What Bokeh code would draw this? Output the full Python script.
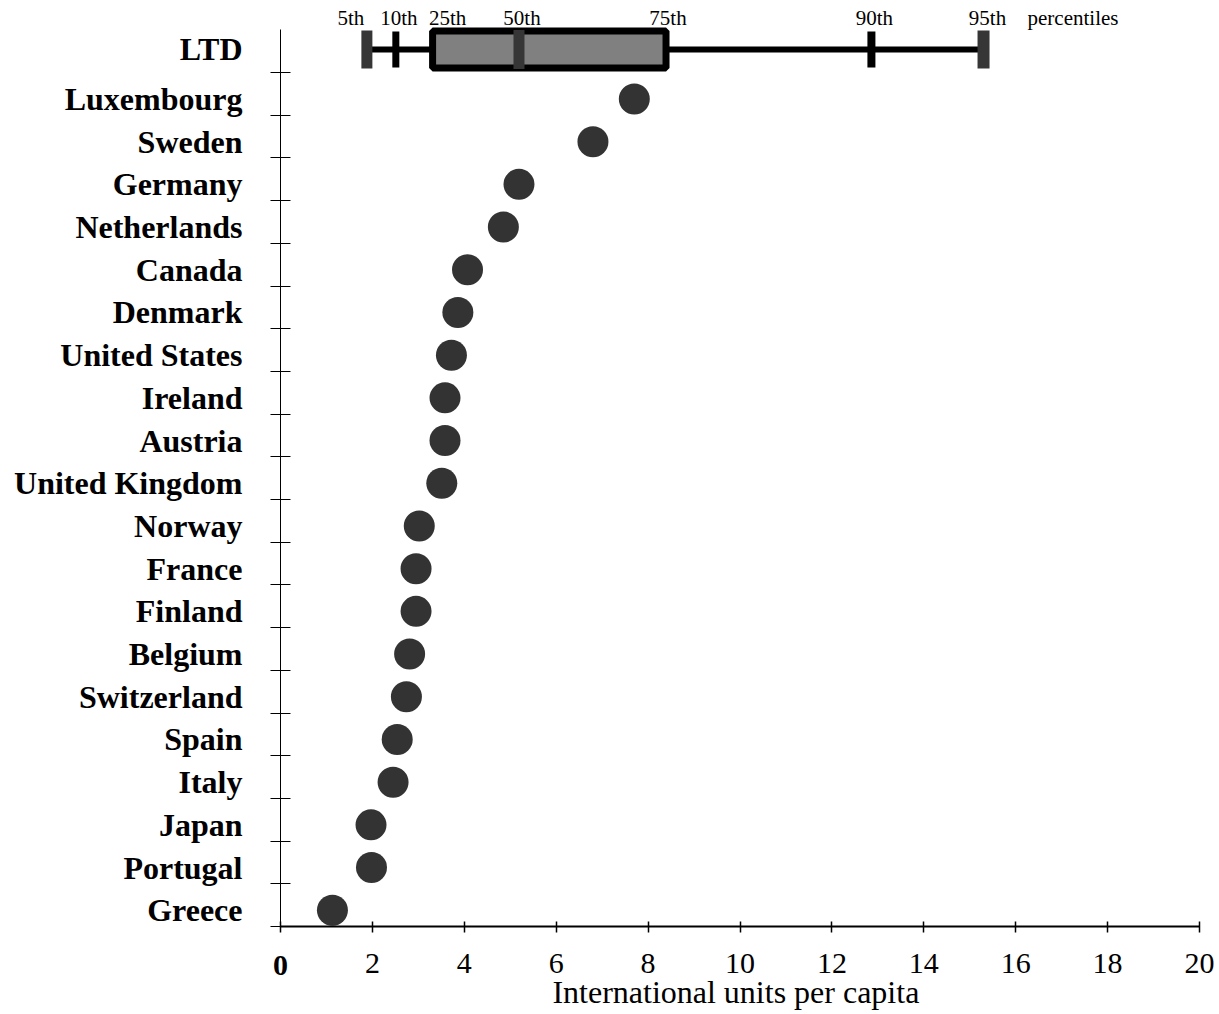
from bokeh.plotting import figure
from bokeh.models import Range1d, FixedTicker, ColumnDataSource, LabelSet, Label
from bokeh.embed import file_html
from bokeh.resources import INLINE

# ---------------- data ----------------
countries = ["Luxembourg", "Sweden", "Germany", "Netherlands", "Canada", "Denmark",
             "United States", "Ireland", "Austria", "United Kingdom", "Norway", "France",
             "Finland", "Belgium", "Switzerland", "Spain", "Italy", "Japan", "Portugal", "Greece"]
values = [7.70, 6.80, 5.19, 4.85, 4.07, 3.86, 3.72, 3.58, 3.58, 3.51, 3.02, 2.95,
          2.95, 2.81, 2.74, 2.54, 2.45, 1.97, 1.98, 1.13]
box_label = "LTD"
pct_labels = ["5th", "10th", "25th", "50th", "75th", "90th", "95th"]
pct_values = [1.88, 2.51, 3.31, 5.19, 8.39, 12.86, 15.30]
pct_word = "percentiles"
x_ticks = [0, 2, 4, 6, 8, 10, 12, 14, 16, 18, 20]
x_title = "International units per capita"

# ---------------- layout ----------------
W, H = 1219, 1014
n = len(countries)
X_MIN, X_MAX = x_ticks[0], x_ticks[-1]
Y_MIN, Y_MAX = 0, n + 1
# pixel placement of the axes' corners
px_x0, px_x1 = 280, 1199
px_y0, px_y1 = 926, 29.3
sx = (px_x1 - px_x0) / (X_MAX - X_MIN)
sy = (px_y0 - px_y1) / (Y_MAX - Y_MIN)
x_range = Range1d(X_MIN - px_x0 / sx, X_MAX + (W - px_x1) / sx)
y_range = Range1d(Y_MIN - (H - px_y0) / sy, Y_MAX + px_y1 / sy)

row_offset = 0.38          # dot/label position inside each row band
ltd_row = n + 0.54         # LTD row (top band)
country_y = [(n - 1 - j) + row_offset for j in range(n)]
boundaries = list(range(Y_MIN, Y_MAX))

SERIF = "Liberation Serif"
DOT = "#333333"

p = figure(width=W, height=H, x_range=x_range, y_range=y_range,
           output_backend="svg", toolbar_location=None,
           min_border_left=0, min_border_right=0, min_border_top=0, min_border_bottom=0)
p.grid.visible = False
p.outline_line_color = None
p.background_fill_color = "white"
p.border_fill_color = "white"

# ---------------- x axis ----------------
xa = p.xaxis[0]
xa.fixed_location = Y_MIN
xa.bounds = (X_MIN, X_MAX)
xa.ticker = FixedTicker(ticks=x_ticks)
xa.major_tick_in = 5
xa.major_tick_out = 6
xa.major_tick_line_width = 1.5
xa.major_tick_line_color = "black"
xa.axis_line_width = 2
xa.axis_line_color = "black"
xa.minor_tick_line_color = None
xa.major_label_text_font = SERIF
xa.major_label_text_font_size = "30px"
xa.major_label_text_color = "black"
xa.major_label_standoff = 21
xa.major_label_overrides = {x_ticks[0]: ""}

# ---------------- y axis ----------------
ya = p.yaxis[0]
ya.fixed_location = X_MIN
ya.bounds = (Y_MIN, Y_MAX)
tick_pos = country_y + [ltd_row]
tick_txt = countries + [box_label]
ya.ticker = FixedTicker(ticks=tick_pos, minor_ticks=boundaries)
ya.major_label_overrides = {t: s for t, s in zip(tick_pos, tick_txt)}
ya.major_tick_line_color = None
ya.major_tick_in = 0
ya.major_tick_out = 0
ya.minor_tick_in = 10
ya.minor_tick_out = 10
ya.minor_tick_line_color = "black"
ya.minor_tick_line_width = 1
ya.axis_line_color = "black"
ya.axis_line_width = 1
ya.major_label_text_font = SERIF
ya.major_label_text_font_style = "bold"
ya.major_label_text_font_size = "32px"
ya.major_label_text_color = "black"
ya.major_label_standoff = 28

# ---------------- LTD box plot ----------------
p5, p10, p25, p50, p75, p90, p95 = pct_values
p.segment(x0=[p5], y0=[ltd_row], x1=[p95], y1=[ltd_row], line_width=6, line_color="black")
p.rect(x=[(p25 + p75) / 2], y=[ltd_row], width=[p75 - p25], height=37, height_units="screen",
       fill_color="#808080", line_color="black", line_width=7)
bar_src = ColumnDataSource(dict(
    x=[p5, p10, p50, p90, p95],
    y=[ltd_row] * 5,
    w=[11, 7, 11, 8, 12],
    h=[38, 36, 39, 36, 38],
    c=["#363636", "#000000", "#363636", "#000000", "#363636"],
))
p.rect(x="x", y="y", width="w", height="h", width_units="screen", height_units="screen",
       fill_color="c", line_color=None, source=bar_src)

# percentile labels
lab_src = ColumnDataSource(dict(
    x=pct_values,
    y=[Y_MAX + 0.28] * len(pct_values),
    t=pct_labels,
    dx=[-16, 3, 15, 3, 2, 3, 4],
))
p.add_layout(LabelSet(x="x", y="y", text="t", x_offset="dx", source=lab_src,
                      text_font=SERIF, text_font_size="21px", text_color="black",
                      text_align="center", text_baseline="middle"))
p.add_layout(Label(x=p95, y=Y_MAX + 0.28, text=pct_word, x_offset=44,
                   text_font=SERIF, text_font_size="21px", text_color="black",
                   text_align="left", text_baseline="middle"))

# ---------------- country dots ----------------
p.scatter(x=values, y=country_y, size=31, fill_color=DOT, line_color=None)

# bold zero tick label and axis title
p.add_layout(Label(x=X_MIN, y=Y_MIN - 0.913, text=str(x_ticks[0]),
                   text_font=SERIF, text_font_style="bold", text_font_size="30px",
                   text_color="black", text_align="center", text_baseline="middle"))
p.add_layout(Label(x=(X_MIN + X_MAX) / 2 - 0.09, y=Y_MIN - 1.54, text=x_title,
                   text_font=SERIF, text_font_size="32px", text_color="black",
                   text_align="center", text_baseline="alphabetic"))

open("out.html", "w").write(file_html(p, INLINE))
